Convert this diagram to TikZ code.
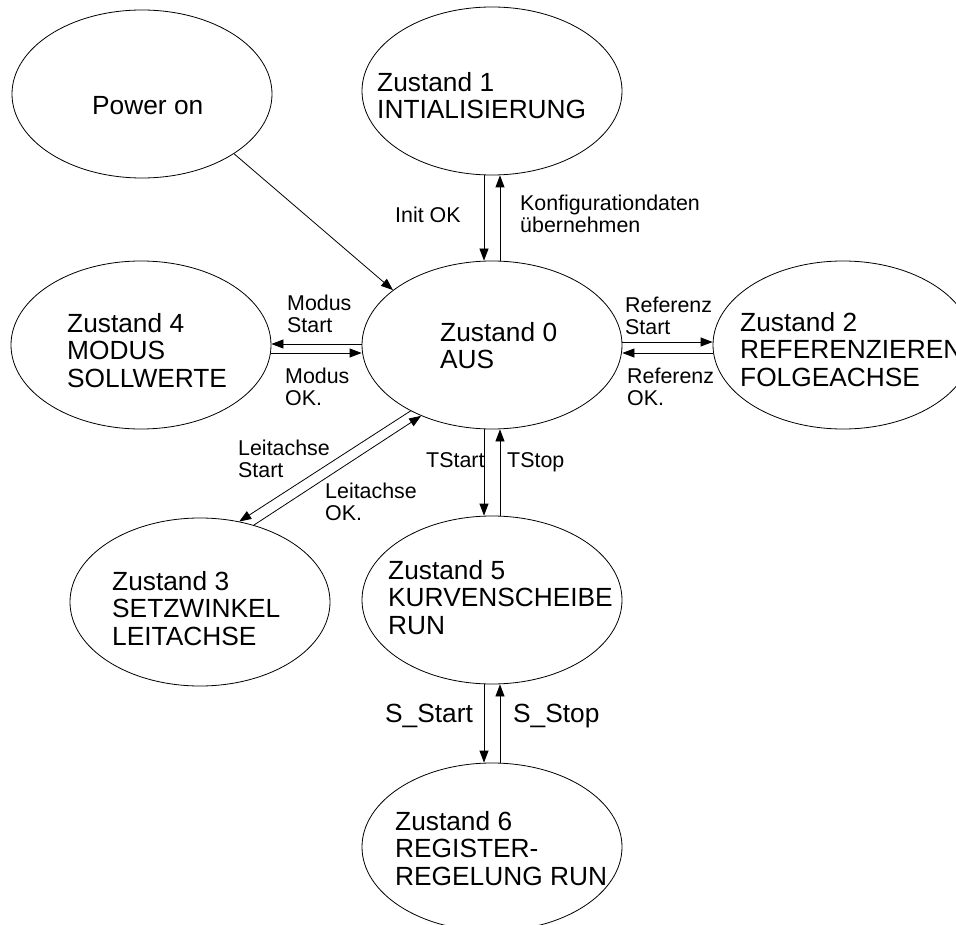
\documentclass[tikz,border=0pt]{standalone}
\usepackage{fontspec}
\setmainfont{Liberation Sans}
\usetikzlibrary{shapes.geometric,arrows.meta,calc}
\begin{document}
\begin{tikzpicture}[x=1pt,y=-1pt,
  st/.style={draw, ellipse, minimum width=260pt, minimum height=168pt, inner sep=0pt, line width=0.8pt},
  sttxt/.style={anchor=north west, inner sep=0pt, align=left, font=\fontsize{26.3pt}{27.5pt}\selectfont},
  lbl/.style={anchor=north west, inner sep=0pt, align=left, font=\fontsize{21.4pt}{22pt}\selectfont},
  arr/.style={-{Triangle[length=12pt,width=9pt]}, line width=0.8pt}
]
\useasboundingbox (0,0) rectangle (956,925);

\node[st] (P) at (142,94) {};
\node[st] (Z1) at (492,91) {};
\node[st] (Z0) at (492,345) {};
\node[st] (Z4) at (141,345) {};
\node[st] (Z2) at (843,345) {};
\node[st] (Z3) at (200,602) {};
\node[st] (Z5) at (492,600) {};
\node[st] (Z6) at (492,847) {};

\node[sttxt] (tP) at (92,96) {Power on};
\node[sttxt] (t1) at (377,72) {Zustand 1\\INTIALISIERUNG};
\node[sttxt] (t0) at (440,322) {Zustand 0\\AUS};
\node[sttxt] (t4) at (67,313) {Zustand 4\\MODUS\\SOLLWERTE};
\node[sttxt] (t2) at (740,312) {Zustand 2\\REFERENZIEREN\\FOLGEACHSE};
\node[sttxt] (t3) at (112,571) {Zustand 3\\SETZWINKEL\\LEITACHSE};
\node[sttxt] (t5) at (388,560) {Zustand 5\\KURVENSCHEIBE\\RUN};
\node[sttxt] (t6) at (395,811) {Zustand 6\\REGISTER-\\REGELUNG RUN};

\node[lbl] (lInit) at (395,207) {Init OK};
\node[lbl] (lKonf) at (520,195) {Konfigurationdaten\\übernehmen};
\node[lbl] (lMS) at (287,295) {Modus\\Start};
\node[lbl] (lMO) at (285,368) {Modus\\OK.};
\node[lbl] (lRS) at (625,297) {Referenz\\Start};
\node[lbl] (lRO) at (627,368) {Referenz\\OK.};
\node[lbl] (lLS) at (238,440) {Leitachse\\Start};
\node[lbl] (lLO) at (325,483) {Leitachse\\OK.};
\node[lbl] (lTS) at (426,452) {TStart};
\node[lbl] (lTP) at (507,452) {TStop};
\node[sttxt] (lSS) at (385,704) {S\_Start};
\node[sttxt] (lSP) at (513,704) {S\_Stop};

\draw[arr] (P.-33) -- (Z0.151);
\draw[arr] ([xshift=-8pt]Z1.south) -- ([xshift=-8pt]Z0.north);
\draw[arr] ([xshift=8pt]Z0.north) -- ([xshift=8pt]Z1.south);
\draw[arr] ([yshift=1pt]Z0.west) -- ([yshift=1pt]Z4.east);
\draw[arr] ([yshift=-8pt]Z4.east) -- ([yshift=-8pt]Z0.west);
\draw[arr] ([yshift=3pt]Z0.east) -- ([yshift=3pt]Z2.west);
\draw[arr] ([yshift=-8pt]Z2.west) -- ([yshift=-8pt]Z0.east);
\draw[arr] (Z0.219) -- (Z3.64);
\draw[arr] (Z3.55) -- (Z0.225);
\draw[arr] ([xshift=-8pt]Z0.south) -- ([xshift=-8pt]Z5.north);
\draw[arr] ([xshift=8pt]Z5.north) -- ([xshift=8pt]Z0.south);
\draw[arr] ([xshift=-8pt]Z5.south) -- ([xshift=-8pt]Z6.north);
\draw[arr] ([xshift=8pt]Z6.north) -- ([xshift=8pt]Z5.south);
\end{tikzpicture}
\end{document}
